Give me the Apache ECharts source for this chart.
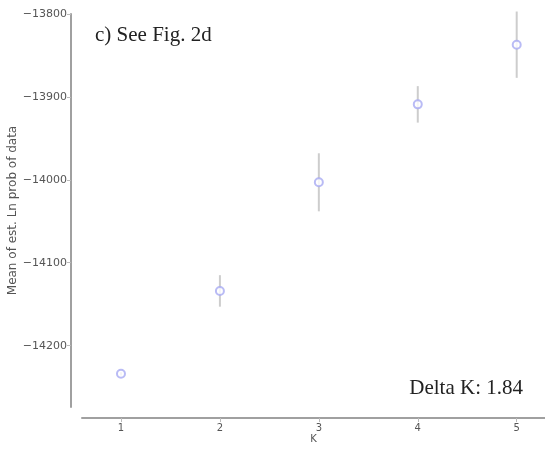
<!DOCTYPE html>
<html>
<head>
<meta charset="utf-8">
<script src="https://cdn.jsdelivr.net/npm/echarts@6/dist/echarts.min.js"></script>
<style>
  html, body { margin: 0; padding: 0; background: #fff; }
  #chart { width: 545px; height: 453px; }
</style>
</head>
<body>
<div id="chart"></div>
<script>
// Mean estimated Ln probability of the data for each K, with its spread
const kValues = [1, 2, 3, 4, 5];
const meanLnProb = [-14234, -14134, -14003, -13909, -13837];
const stdLnProb = [2, 19, 35, 22, 40];
const yTicks = [-14200, -14100, -14000, -13900, -13800];
const xTicks = [1, 2, 3, 4, 5];

const points = kValues.map((k, i) => [k, meanLnProb[i]]);
const bars = kValues.map((k, i) => [k, meanLnProb[i] - stdLnProb[i], meanLnProb[i] + stdLnProb[i]]);

const fmtMinus = v => String(v).replace('-', '\u2212');

const chart = echarts.init(document.getElementById('chart'), null, { renderer: 'canvas' });
chart.setOption({
  animation: false,
  backgroundColor: '#ffffff',
  grid: { left: 82, right: 0, top: 14, bottom: 46, containLabel: false, outerBoundsMode: 'none' },
  xAxis: {
    type: 'value',
    min: 0.606,
    max: 5.286,
    offset: 11,
    name: 'K',
    nameLocation: 'middle',
    nameGap: 16,
    nameMoveOverlap: false,
    nameTextStyle: { fontFamily: 'DejaVu Sans', fontSize: 10, color: '#555' },
    axisLine: { show: true, lineStyle: { color: '#a0a0a0', width: 2 } },
    axisTick: { show: true, length: 4, customValues: xTicks, lineStyle: { color: '#bbb' } },
    axisLabel: { customValues: xTicks, fontFamily: 'DejaVu Sans', fontSize: 10, color: '#555', margin: 5 },
    splitLine: { show: false }
  },
  yAxis: {
    type: 'value',
    min: -14274,
    max: -13800,
    offset: 11,
    name: 'Mean of est. Ln prob of data',
    nameLocation: 'middle',
    nameGap: 52,
    nameRotate: 90,
    nameMoveOverlap: false,
    nameTextStyle: { fontFamily: 'DejaVu Sans', fontSize: 12, color: '#555' },
    axisLine: { show: true, lineStyle: { color: '#a0a0a0', width: 2 } },
    axisTick: { show: true, length: 4, customValues: yTicks, lineStyle: { color: '#bbb' } },
    axisLabel: { customValues: yTicks, formatter: fmtMinus, fontFamily: 'DejaVu Sans', fontSize: 11, color: '#555', margin: 4 },
    splitLine: { show: false }
  },
  graphic: [
    {
      type: 'text', left: 95, top: 25,
      style: { text: 'c) See Fig. 2d', font: '21px "Liberation Serif"', fill: '#222' }
    },
    {
      type: 'text', right: 22, top: 378,
      style: { text: 'Delta K: 1.84', font: '21px "Liberation Serif"', fill: '#222' }
    }
  ],
  series: [
    {
      type: 'custom',
      data: bars,
      renderItem: (params, api) => {
        const lo = api.coord([api.value(0), api.value(1)]);
        const hi = api.coord([api.value(0), api.value(2)]);
        return {
          type: 'line',
          shape: { x1: lo[0], y1: lo[1], x2: hi[0], y2: hi[1] },
          style: { stroke: '#cdcdcd', lineWidth: 2 }
        };
      },
      z: 1
    },
    {
      type: 'scatter',
      data: points,
      symbol: 'emptyCircle',
      symbolSize: 8,
      itemStyle: { color: '#a8aaf2', borderColor: '#a8aaf2', borderWidth: 1 },
      z: 2
    }
  ]
});
</script>
</body>
</html>
